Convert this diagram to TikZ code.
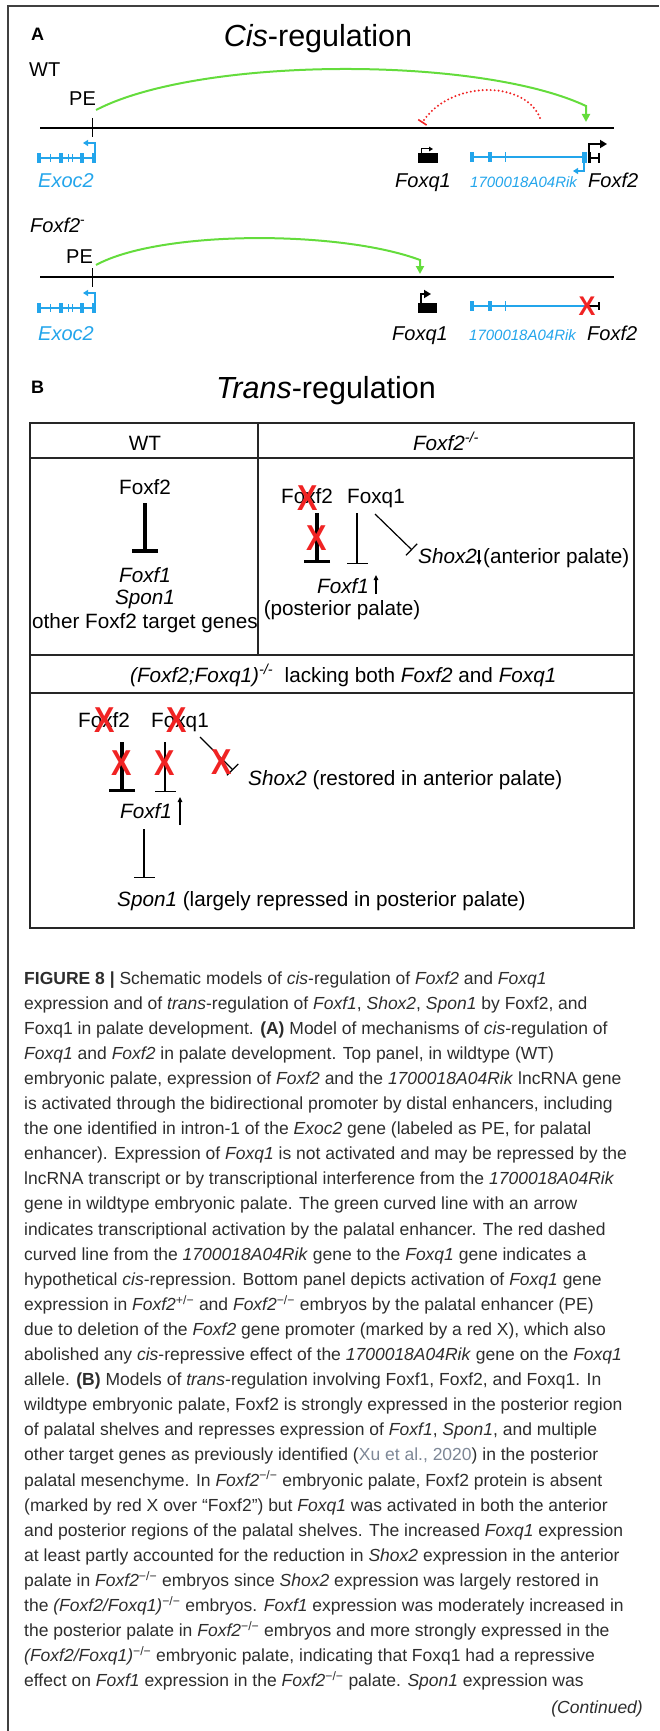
\documentclass[tikz,border=0pt]{standalone}
\usepackage{fontspec}
\setmainfont{Liberation Sans}
\usetikzlibrary{arrows.meta}

\definecolor{geneblue}{RGB}{35,165,235}
\definecolor{enhgreen}{RGB}{100,220,60}
\definecolor{koRed}{RGB}{240,35,35}
\definecolor{captext}{RGB}{45,45,45}
\definecolor{citegray}{RGB}{125,135,150}

\tikzset{
  lbl/.style={font=\fontsize{20}{24}\selectfont, inner sep=0pt, anchor=base},
  blbl/.style={font=\fontsize{20.7}{24}\selectfont, inner sep=0pt, anchor=base},
  ttl/.style={font=\fontsize{30.5}{36}\selectfont, inner sep=0pt, anchor=base},
  pnl/.style={font=\bfseries\fontsize{18}{20}\selectfont, inner sep=0pt, anchor=base west},
  captl/.style={font=\fontsize{17.5}{20}\selectfont, text=captext, inner sep=0pt, anchor=base west},
  chrom/.style={line width=1.6pt},
  gline/.style={geneblue, line width=2pt},
  enh/.style={enhgreen, line width=2pt, -{Triangle[length=8pt,width=8pt]}},
  rep/.style={koRed, line width=2.2pt, line cap=round, dash pattern=on 0pt off 4pt, -{Bar[width=10pt,line width=1.6pt]}},
  tss/.style={line width=2pt, -{Triangle[length=7pt,width=8pt]}},
  tssb/.style={geneblue, line width=1.5pt, -{Triangle[length=5pt,width=6pt]}},
  inhk/.style={line width=3.5pt, -{Bar[width=26pt,line width=3.5pt]}},
  inht/.style={line width=1.2pt, -{Bar[width=21pt,line width=1.2pt]}},
  inhd/.style={line width=1.2pt, -{Bar[width=16pt,line width=1.2pt]}},
  updn/.style={line width=1.3pt, -{Triangle[length=5pt,width=4.5pt]}},
  xout/.style={text=koRed, font=\bfseries\fontsize{36}{36}\selectfont, inner sep=0pt, xscale=0.85},
  tbl/.style={line width=2pt, draw=black!85}
}

\begin{document}
\begin{tikzpicture}[x=1pt,y=-1pt]
\useasboundingbox (0,0) rectangle (659,1731);
\draw[line width=1.5pt, black!75] (8,1731) -- (8,6) -- (659,6);

% (A) cis-regulation
\node[pnl] (labA) at (31,41) {A};
\node[ttl] (titA) at (318,47) {\textit{Cis}-regulation};
\node[lbl, anchor=base west] (wtA) at (29,77) {WT};
\node[lbl, anchor=base west] (mutA) at (30,232) {\textit{Foxf2}\textsuperscript{-}};

\coordinate (chrWTa) at (40,128);
\coordinate (chrWTb) at (614,128);
\coordinate (chrKOa) at (40,277);
\coordinate (chrKOb) at (614,277);
\draw[chrom] (chrWTa) -- (chrWTb);
\draw[chrom] (chrKOa) -- (chrKOb);
\draw[line width=1pt] (92,118) -- (92,137);
\draw[line width=1pt] (92,268) -- (92,287);
\node[lbl, anchor=base west] (peWT) at (69,106) {PE};
\node[lbl, anchor=base west] (peKO) at (66,263) {PE};

\coordinate (enhWT) at (96,110);
\coordinate (hitWT) at (586,122);
\draw[enh] (enhWT) .. controls (200,56) and (480,56) .. (586,106) -- (hitWT);
\coordinate (enhKO) at (96,265);
\coordinate (hitKO) at (420,274);
\draw[enh] (enhKO) .. controls (160,230) and (340,230) .. (420,260) -- (hitKO);
\coordinate (rikWT) at (540,118);
\coordinate (fq1WT) at (422,123);
\draw[rep] (rikWT) .. controls (525,80) and (450,80) .. (fq1WT);

% Exoc2
\foreach \y in {158,308} {
  \draw[gline] (37,\y) -- (96,\y);
  \foreach \a in {37,59,80,92}
    \fill[geneblue] (\a,\y-5) rectangle ++(4,10);
  \foreach \a in {50,68,72}
    \draw[geneblue, line width=1pt] (\a,\y-4) -- (\a,\y+4);
  \draw[tssb] (95,\y-5) -- (95,\y-15) -- (83,\y-15);
}
% 1700018A04Rik
\foreach \y in {157,306} {
  \draw[gline] (470,\y) -- (585,\y);
  \foreach \a in {470,488}
    \fill[geneblue] (\a,\y-5) rectangle ++(4,10);
  \draw[geneblue, line width=1pt] (505,\y-5) -- (505,\y+5);
}
\fill[geneblue] (582,152) rectangle (587,163);
\draw[tssb] (584,163) -- (584,171) -- (573,171);
% Foxf2 / Foxq1, WT
\fill (588,152) rectangle (591,163);
\draw[line width=1.3pt] (591,158) -- (599,158) (599,153) -- (599,163);
\draw[tss] (589,152) -- (589,144) -- (607,144);
\fill (418,153) rectangle (438,163);
\draw[line width=1pt, -{Triangle[length=4pt,width=4.5pt]}] (421,153) -- (421,149) -- (433,149);
% Foxf2 / Foxq1, Foxf2-
\draw[line width=1.3pt] (587,306) -- (599,306) (599,302) -- (599,310);
\node[xout, font=\bfseries\fontsize{27}{27}\selectfont, xscale=1.1] (xPro) at (587,306) {X};
\fill (418,303) rectangle (437,313);
\draw[tss] (421,303) -- (421,294) -- (431,294);

\node[lbl, anchor=base west, text=geneblue] (exWT) at (38,188) {\textit{Exoc2}};
\node[lbl, anchor=base west] (fqWT) at (395,188) {\textit{Foxq1}};
\node[lbl, anchor=base west, text=geneblue, font=\fontsize{15}{18}\selectfont] (rkWT) at (470,188) {\textit{1700018A04Rik}};
\node[lbl, anchor=base west] (ffWT) at (588,188) {\textit{Foxf2}};
\node[lbl, anchor=base west, text=geneblue] (exKO) at (38,340) {\textit{Exoc2}};
\node[lbl, anchor=base west] (fqKO) at (392,340) {\textit{Foxq1}};
\node[lbl, anchor=base west, text=geneblue, font=\fontsize{15}{18}\selectfont] (rkKO) at (469,340) {\textit{1700018A04Rik}};
\node[lbl, anchor=base west] (ffKO) at (587,340) {\textit{Foxf2}};

% (B) trans-regulation
\node[pnl] (labB) at (31,393) {B};
\node[ttl] (titB) at (326,398) {\textit{Trans}-regulation};
\draw[tbl] (30,423) rectangle (634,928);
\draw[tbl] (30,458) -- (634,458) (30,655) -- (634,655) (30,693) -- (634,693);
\draw[tbl] (258,423) -- (258,655);
\node[blbl] (hdWT) at (145,450) {WT};
\node[blbl] (hdKO) at (446,450) {\textit{Foxf2\textsuperscript{-/-}}};
\node[blbl, anchor=base west] (hdDKO) at (130,682) {\textit{(Foxf2;Foxq1)\textsuperscript{-/-}}\ \ lacking both \textit{Foxf2} and \textit{Foxq1}};

\node[blbl] (wtF2) at (145,494) {Foxf2};
\node[blbl] (wtF1) at (145,582) {\textit{Foxf1}};
\node[blbl] (wtSp) at (145,604) {\textit{Spon1}};
\node[blbl] (wtOt) at (145,628) {other Foxf2 target genes};
\draw[inhk] ([yshift=-9pt]wtF2.south) -- ([yshift=14pt]wtF1.north);

\node[blbl] (kF2) at (307,503) {Foxf2};
\node[blbl] (kQ1) at (376,503) {Foxq1};
\node[blbl, anchor=base west] (kSh) at (418,563) {\textit{Shox2}};
\node[blbl, anchor=base west] (kAnt) at (483,563) {(anterior palate)};
\node[blbl, anchor=base west] (kF1) at (317,593) {\textit{Foxf1}};
\node[blbl] (kPost) at (342,615) {(posterior palate)};
\coordinate (kF2a) at (317,513);
\coordinate (kF2b) at (317,563);
\coordinate (kQ1a) at (357,513);
\coordinate (kQ1b) at (357,564);
\coordinate (kQ1c) at (375,514);
\coordinate (kQ1d) at (412,550);
\draw[inhk] (kF2a) -- (kF2b);
\draw[inht] (kQ1a) -- (kQ1b);
\draw[inhd] (kQ1c) -- (kQ1d);
\draw[updn] (479,550) -- (479,565);
\draw[updn] (376,594) -- (376,575);
\node[xout] (kX1) at (308,498) {X};
\node[xout] (kX2) at (317,538) {X};

\node[blbl] (dF2) at (104,727) {Foxf2};
\node[blbl] (dQ1) at (180,727) {Foxq1};
\node[blbl, anchor=base west] (dSh) at (248,785) {\textit{Shox2} (restored in anterior palate)};
\node[blbl, anchor=base west] (dF1) at (120,818) {\textit{Foxf1}};
\node[blbl, anchor=base west] (dSp) at (117,906) {\textit{Spon1} (largely repressed in posterior palate)};
\coordinate (dF2a) at (122,742);
\coordinate (dF2b) at (122,792);
\coordinate (dQ1a) at (165,742);
\coordinate (dQ1b) at (165,792);
\coordinate (dQ1c) at (200,737);
\coordinate (dQ1d) at (233,770);
\coordinate (dF1a) at (144,829);
\coordinate (dF1b) at (144,878);
\draw[inhk] (dF2a) -- (dF2b);
\draw[inht] (dQ1a) -- (dQ1b);
\draw[inhd] (dQ1c) -- (dQ1d);
\draw[inht] (dF1a) -- (dF1b);
\draw[updn] (180,825) -- (180,797);
\node[xout] (dX1) at (105,720) {X};
\node[xout] (dX2) at (177,720) {X};
\node[xout] (dX3) at (122,763) {X};
\node[xout] (dX4) at (165,763) {X};
\node[xout] (dX5) at (222,762) {X};

% caption
\foreach \ln [count=\i from 0] in {
 {\textbf{FIGURE 8 |} Schematic models of \textit{cis}-regulation of \textit{Foxf2} and \textit{Foxq1}},
 {expression and of \textit{trans}-regulation of \textit{Foxf1}, \textit{Shox2}, \textit{Spon1} by Foxf2, and},
 {Foxq1 in palate development. \textbf{(A)} Model of mechanisms of \textit{cis}-regulation of},
 {\textit{Foxq1} and \textit{Foxf2} in palate development. Top panel, in wildtype (WT)},
 {embryonic palate, expression of \textit{Foxf2} and the \textit{1700018A04Rik} lncRNA gene},
 {is activated through the bidirectional promoter by distal enhancers, including},
 {the one identified in intron-1 of the \textit{Exoc2} gene (labeled as PE, for palatal},
 {enhancer). Expression of \textit{Foxq1} is not activated and may be repressed by the},
 {lncRNA transcript or by transcriptional interference from the \textit{1700018A04Rik}},
 {gene in wildtype embryonic palate. The green curved line with an arrow},
 {indicates transcriptional activation by the palatal enhancer. The red dashed},
 {curved line from the \textit{1700018A04Rik} gene to the \textit{Foxq1} gene indicates a},
 {hypothetical \textit{cis}-repression. Bottom panel depicts activation of \textit{Foxq1} gene},
 {expression in \textit{Foxf2}\textsuperscript{+/−} and \textit{Foxf2}\textsuperscript{−/−} embryos by the palatal enhancer (PE)},
 {due to deletion of the \textit{Foxf2} gene promoter (marked by a red X), which also},
 {abolished any \textit{cis}-repressive effect of the \textit{1700018A04Rik} gene on the \textit{Foxq1}},
 {allele. \textbf{(B)} Models of \textit{trans}-regulation involving Foxf1, Foxf2, and Foxq1. In},
 {wildtype embryonic palate, Foxf2 is strongly expressed in the posterior region},
 {of palatal shelves and represses expression of \textit{Foxf1}, \textit{Spon1}, and multiple},
 {other target genes as previously identified (\textcolor{citegray}{Xu et al., 2020}) in the posterior},
 {palatal mesenchyme. In \textit{Foxf2}\textsuperscript{−/−} embryonic palate, Foxf2 protein is absent},
 {(marked by red X over “Foxf2”) but \textit{Foxq1} was activated in both the anterior},
 {and posterior regions of the palatal shelves. The increased \textit{Foxq1} expression},
 {at least partly accounted for the reduction in \textit{Shox2} expression in the anterior},
 {palate in \textit{Foxf2}\textsuperscript{−/−} embryos since \textit{Shox2} expression was largely restored in},
 {the \textit{(Foxf2/Foxq1)}\textsuperscript{−/−} embryos. \textit{Foxf1} expression was moderately increased in},
 {the posterior palate in \textit{Foxf2}\textsuperscript{−/−} embryos and more strongly expressed in the},
 {\textit{(Foxf2/Foxq1)}\textsuperscript{−/−} embryonic palate, indicating that Foxq1 had a repressive},
 {effect on \textit{Foxf1} expression in the \textit{Foxf2}\textsuperscript{−/−} palate. \textit{Spon1} expression was}
}
  \node[captl] (cap\i) at (24,{984+25.1*\i}) {\ln};
\node[captl, anchor=base east] (cont) at (643,1713) {\textit{(Continued)}};
\end{tikzpicture}
\end{document}
